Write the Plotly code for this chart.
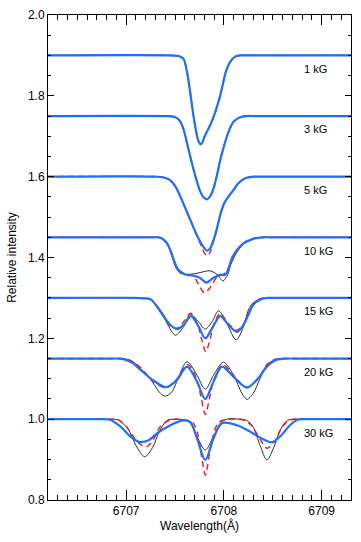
import plotly.graph_objects as go

# ---------------- data ----------------
field_labels = ["1 kG", "3 kG", "5 kG", "10 kG", "15 kG", "20 kG", "30 kG"]
continuum_levels = [1.90, 1.75, 1.60, 1.45, 1.30, 1.15, 1.00]

# 1 kG (all three profiles coincide)
wl_1kG = [6706.20, 6707.45, 6707.52, 6707.554, 6707.588, 6707.615, 6707.639, 6707.663, 6707.690,
          6707.717, 6707.741, 6707.765, 6707.809, 6707.860, 6707.894, 6707.945, 6707.980, 6708.020,
          6708.064, 6708.115, 6708.17, 6708.25, 6709.30]
int_1kG = [1.900, 1.900, 1.899, 1.897, 1.891, 1.868, 1.835, 1.794, 1.748,
           1.711, 1.687, 1.680, 1.703, 1.728, 1.748, 1.786, 1.819, 1.860,
           1.884, 1.897, 1.900, 1.900, 1.900]

# 3 kG (all three profiles coincide)
wl_3kG = [6706.20, 6707.40, 6707.47, 6707.520, 6707.554, 6707.588, 6707.622, 6707.656, 6707.690,
          6707.724, 6707.758, 6707.792, 6707.827, 6707.860, 6707.894, 6707.929, 6707.962, 6708.003,
          6708.047, 6708.098, 6708.166, 6708.23, 6708.30, 6709.30]
int_3kG = [1.750, 1.750, 1.749, 1.745, 1.736, 1.716, 1.683, 1.649, 1.617,
           1.588, 1.563, 1.549, 1.544, 1.552, 1.571, 1.604, 1.641, 1.678,
           1.711, 1.736, 1.747, 1.750, 1.750, 1.750]

# 5 kG
wl_5kG = [6706.20, 6707.30, 6707.384, 6707.452, 6707.503, 6707.554, 6707.605, 6707.656, 6707.707,
          6707.758, 6707.799, 6707.827, 6707.860, 6707.894, 6707.929, 6707.962, 6708.003, 6708.047,
          6708.098, 6708.149, 6708.217, 6708.30, 6708.38, 6709.30]
int_5kG_thin = [1.600, 1.600, 1.598, 1.591, 1.576, 1.551, 1.522, 1.493, 1.464,
                1.439, 1.423, 1.417, 1.423, 1.443, 1.472, 1.505, 1.534, 1.551,
                1.567, 1.584, 1.596, 1.600, 1.600, 1.600]
int_5kG_red = [1.600, 1.600, 1.598, 1.591, 1.576, 1.551, 1.522, 1.493, 1.462,
               1.434, 1.412, 1.404, 1.414, 1.441, 1.472, 1.505, 1.534, 1.551,
               1.567, 1.584, 1.596, 1.600, 1.600, 1.600]
int_5kG_blue = int_5kG_thin

# 10 kG
wl_10kG_black = [6706.20, 6707.28, 6707.33, 6707.367, 6707.424, 6707.469, 6707.513, 6707.554, 6707.622,
                 6707.724, 6707.860, 6707.935, 6707.990, 6708.037, 6708.070, 6708.125, 6708.200,
                 6708.300, 6708.40, 6708.48, 6709.30]
int_10kG_black = [1.450, 1.450, 1.450, 1.447, 1.431, 1.402, 1.373, 1.361, 1.358,
                  1.361, 1.367, 1.357, 1.342, 1.357, 1.382, 1.410, 1.433,
                  1.446, 1.450, 1.450, 1.450]
wl_10kG_red = [6706.20, 6707.28, 6707.33, 6707.367, 6707.418, 6707.459, 6707.500, 6707.550, 6707.620,
               6707.690, 6707.740, 6707.800, 6707.860, 6707.930, 6707.985, 6708.037, 6708.075,
               6708.125, 6708.200, 6708.300, 6708.40, 6708.48, 6709.30]
int_10kG_red = [1.450, 1.450, 1.450, 1.447, 1.436, 1.410, 1.383, 1.366, 1.360,
                1.352, 1.334, 1.313, 1.326, 1.352, 1.358, 1.365, 1.388,
                1.415, 1.436, 1.447, 1.450, 1.450, 1.450]
wl_10kG_blue = [6706.20, 6707.28, 6707.33, 6707.367, 6707.418, 6707.459, 6707.493, 6707.537, 6707.605,
                6707.690, 6707.758, 6707.819, 6707.894, 6707.962, 6708.013, 6708.047, 6708.082,
                6708.133, 6708.200, 6708.300, 6708.40, 6708.48, 6709.30]
int_10kG_blue = [1.450, 1.450, 1.450, 1.447, 1.435, 1.414, 1.390, 1.369, 1.358,
                 1.355, 1.349, 1.338, 1.350, 1.357, 1.357, 1.373, 1.398,
                 1.419, 1.435, 1.446, 1.450, 1.450, 1.450]

# 15 kG
wl_15kG_black = [6706.20, 6707.12, 6707.19, 6707.248, 6707.350, 6707.418, 6707.503, 6707.588, 6707.656,
                 6707.741, 6707.809, 6707.878, 6707.945, 6708.030, 6708.125, 6708.200, 6708.250,
                 6708.300, 6708.370, 6708.44, 6708.52, 6709.30]
int_15kG_black = [1.300, 1.300, 1.299, 1.296, 1.270, 1.237, 1.208, 1.229, 1.260,
                  1.241, 1.223, 1.241, 1.268, 1.237, 1.196, 1.229, 1.270,
                  1.288, 1.297, 1.300, 1.300, 1.300]
wl_15kG_red = [6706.20, 6707.10, 6707.17, 6707.248, 6707.316, 6707.390, 6707.460, 6707.530, 6707.600,
               6707.660, 6707.730, 6707.770, 6707.815, 6707.860, 6707.900, 6707.962, 6708.040,
               6708.130, 6708.200, 6708.250, 6708.300, 6708.370, 6708.45, 6708.53, 6709.30]
int_15kG_red = [1.300, 1.300, 1.299, 1.297, 1.280, 1.255, 1.228, 1.226, 1.245,
                1.262, 1.235, 1.200, 1.167, 1.200, 1.235, 1.262, 1.238,
                1.220, 1.235, 1.262, 1.285, 1.298, 1.300, 1.300, 1.300]
wl_15kG_blue = [6706.20, 6707.10, 6707.17, 6707.248, 6707.316, 6707.384, 6707.452, 6707.520, 6707.588,
                6707.663, 6707.741, 6707.809, 6707.888, 6707.962, 6708.047, 6708.133, 6708.200,
                6708.250, 6708.300, 6708.380, 6708.45, 6708.53, 6709.30]
int_15kG_blue = [1.300, 1.300, 1.299, 1.297, 1.278, 1.254, 1.233, 1.223, 1.233,
                 1.255, 1.229, 1.200, 1.229, 1.255, 1.233, 1.216, 1.233,
                 1.258, 1.283, 1.297, 1.300, 1.300, 1.300]

# 20 kG
wl_20kG_black = [6706.20, 6706.90, 6706.96, 6707.010, 6707.080, 6707.146, 6707.265, 6707.350, 6707.400,
                 6707.469, 6707.537, 6707.622, 6707.724, 6707.809, 6707.894, 6707.996, 6708.098,
                 6708.184, 6708.235, 6708.300, 6708.370, 6708.440, 6708.520, 6708.60, 6708.68, 6709.30]
int_20kG_black = [1.150, 1.150, 1.150, 1.148, 1.140, 1.126, 1.093, 1.064, 1.057,
                  1.068, 1.105, 1.142, 1.109, 1.074, 1.109, 1.141, 1.109,
                  1.064, 1.049, 1.064, 1.101, 1.134, 1.147, 1.150, 1.150, 1.150]
wl_20kG_red = [6706.20, 6706.88, 6706.95, 6707.000, 6707.070, 6707.150, 6707.280, 6707.410, 6707.520,
               6707.630, 6707.720, 6707.765, 6707.810, 6707.855, 6707.900, 6707.990, 6708.100,
               6708.230, 6708.350, 6708.440, 6708.520, 6708.60, 6708.68, 6709.30]
int_20kG_red = [1.150, 1.150, 1.150, 1.149, 1.142, 1.127, 1.093, 1.078, 1.100,
                1.135, 1.100, 1.055, 1.012, 1.055, 1.100, 1.135, 1.108,
                1.079, 1.100, 1.135, 1.148, 1.150, 1.150, 1.150]
wl_20kG_blue = [6706.20, 6706.85, 6706.92, 6706.980, 6707.060, 6707.146, 6707.282, 6707.410, 6707.520,
                6707.622, 6707.724, 6707.809, 6707.894, 6707.980, 6708.098, 6708.235, 6708.350,
                6708.440, 6708.540, 6708.64, 6708.72, 6709.30]
int_20kG_blue = [1.150, 1.150, 1.150, 1.148, 1.140, 1.122, 1.095, 1.079, 1.097,
                 1.130, 1.093, 1.050, 1.093, 1.130, 1.105, 1.078, 1.101,
                 1.130, 1.147, 1.150, 1.150, 1.150]

# 30 kG
wl_30kG_black = [6706.20, 6706.80, 6706.86, 6706.920, 6707.020, 6707.100, 6707.190, 6707.270, 6707.340,
                 6707.420, 6707.500, 6707.600, 6707.656, 6707.724, 6707.809, 6707.894, 6707.962,
                 6708.030, 6708.160, 6708.235, 6708.300, 6708.370, 6708.440, 6708.510, 6708.580,
                 6708.650, 6708.720, 6708.80, 6709.30]
int_30kG_black = [1.000, 1.000, 1.000, 0.998, 0.975, 0.935, 0.907, 0.930, 0.970,
                  0.997, 1.000, 0.998, 0.990, 0.957, 0.924, 0.957, 0.990,
                  1.000, 1.000, 0.997, 0.980, 0.935, 0.899, 0.930, 0.975,
                  0.997, 1.000, 1.000, 1.000]
wl_30kG_red = [6706.20, 6706.80, 6706.86, 6706.920, 6707.000, 6707.080, 6707.150, 6707.210, 6707.280,
               6707.350, 6707.450, 6707.600, 6707.680, 6707.730, 6707.770, 6707.810, 6707.850,
               6707.890, 6707.940, 6708.000, 6708.200, 6708.280, 6708.360, 6708.440, 6708.520,
               6708.590, 6708.660, 6708.730, 6708.80, 6709.30]
int_30kG_red = [1.000, 1.000, 1.000, 0.998, 0.982, 0.955, 0.937, 0.932, 0.950,
                0.982, 0.998, 0.998, 0.992, 0.965, 0.910, 0.862, 0.910,
                0.960, 0.990, 0.998, 0.998, 0.985, 0.955, 0.928, 0.945,
                0.978, 0.996, 1.000, 1.000, 1.000]
wl_30kG_blue = [6706.20, 6706.72, 6706.78, 6706.840, 6706.940, 6707.044, 6707.130, 6707.230, 6707.316,
                6707.452, 6707.588, 6707.656, 6707.724, 6707.809, 6707.894, 6707.980, 6708.133,
                6708.270, 6708.387, 6708.490, 6708.590, 6708.675, 6708.760, 6708.84, 6709.30]
int_30kG_blue = [1.000, 1.000, 1.000, 0.998, 0.982, 0.957, 0.944, 0.948, 0.965,
                 0.985, 0.997, 0.993, 0.953, 0.899, 0.953, 0.990, 0.985,
                 0.969, 0.952, 0.943, 0.961, 0.985, 0.999, 1.000, 1.000]

black_curves = [(wl_1kG, int_1kG), (wl_3kG, int_3kG), (wl_5kG, int_5kG_thin),
                (wl_10kG_black, int_10kG_black), (wl_15kG_black, int_15kG_black),
                (wl_20kG_black, int_20kG_black), (wl_30kG_black, int_30kG_black)]
red_curves = [(wl_1kG, int_1kG), (wl_3kG, int_3kG), (wl_5kG, int_5kG_red),
              (wl_10kG_red, int_10kG_red), (wl_15kG_red, int_15kG_red),
              (wl_20kG_red, int_20kG_red), (wl_30kG_red, int_30kG_red)]
blue_curves = [(wl_1kG, int_1kG), (wl_3kG, int_3kG), (wl_5kG, int_5kG_blue),
               (wl_10kG_blue, int_10kG_blue), (wl_15kG_blue, int_15kG_blue),
               (wl_20kG_blue, int_20kG_blue), (wl_30kG_blue, int_30kG_blue)]

label_wavelength = 6708.80
label_offset = -0.033

# ---------------- figure ----------------
FONT = "Liberation Sans, Arial, Helvetica, sans-serif"
fig = go.Figure()

for wl, it in black_curves:
    fig.add_trace(go.Scatter(x=wl, y=it, mode="lines", showlegend=False, hoverinfo="skip",
                             line=dict(color="rgb(45,45,45)", width=1, shape="spline", smoothing=0.9)))
for wl, it in red_curves:
    fig.add_trace(go.Scatter(x=wl, y=it, mode="lines", showlegend=False, hoverinfo="skip",
                             line=dict(color="rgb(255,20,20)", width=1.4, dash="6px,4px",
                                       shape="spline", smoothing=0.9)))
for wl, it in blue_curves:
    fig.add_trace(go.Scatter(x=wl, y=it, mode="lines", showlegend=False, hoverinfo="skip",
                             line=dict(color="rgb(30,110,255)", width=2.2, shape="spline", smoothing=0.9)))

for lab, lev in zip(field_labels, continuum_levels):
    fig.add_annotation(x=label_wavelength, y=lev + label_offset, text=lab, showarrow=False,
                       xanchor="left", yanchor="middle",
                       font=dict(family=FONT, size=11, color="black"))

fig.update_layout(
    width=361, height=542,
    margin=dict(l=48, r=10, t=15, b=42),
    paper_bgcolor="white", plot_bgcolor="white",
    font=dict(family=FONT, size=11, color="black"),
)
fig.update_xaxes(
    range=[6706.2, 6709.3], tick0=6707, dtick=1, tickformat="d",
    ticks="inside", ticklen=10, tickwidth=1, tickcolor="black",
    minor=dict(dtick=0.1, tick0=6707, ticks="inside", ticklen=5, tickwidth=1, tickcolor="black"),
    showline=True, linecolor="black", linewidth=1, mirror="ticks",
    showgrid=False, zeroline=False, automargin=False,
    title=dict(text="Wavelength(Å)", font=dict(family=FONT, size=12), standoff=4),
    tickfont=dict(family=FONT, size=12),
)
fig.update_yaxes(
    range=[0.8, 2.0], tick0=0.8, dtick=0.2, tickformat=".1f",
    ticks="inside", ticklen=6, tickwidth=1, tickcolor="black",
    minor=dict(dtick=0.05, tick0=0.8, ticks="inside", ticklen=3, tickwidth=1, tickcolor="black"),
    showline=True, linecolor="black", linewidth=1, mirror="ticks",
    showgrid=False, zeroline=False, automargin=False,
    title=dict(text="Relative intensity", font=dict(family=FONT, size=12), standoff=8),
    tickfont=dict(family=FONT, size=12),
)

fig.write_html("out.html",
               config={"displayModeBar": False},
               post_script="document.body.style.margin='0';document.body.style.padding='0';"
                           "document.body.style.overflow='hidden';")
